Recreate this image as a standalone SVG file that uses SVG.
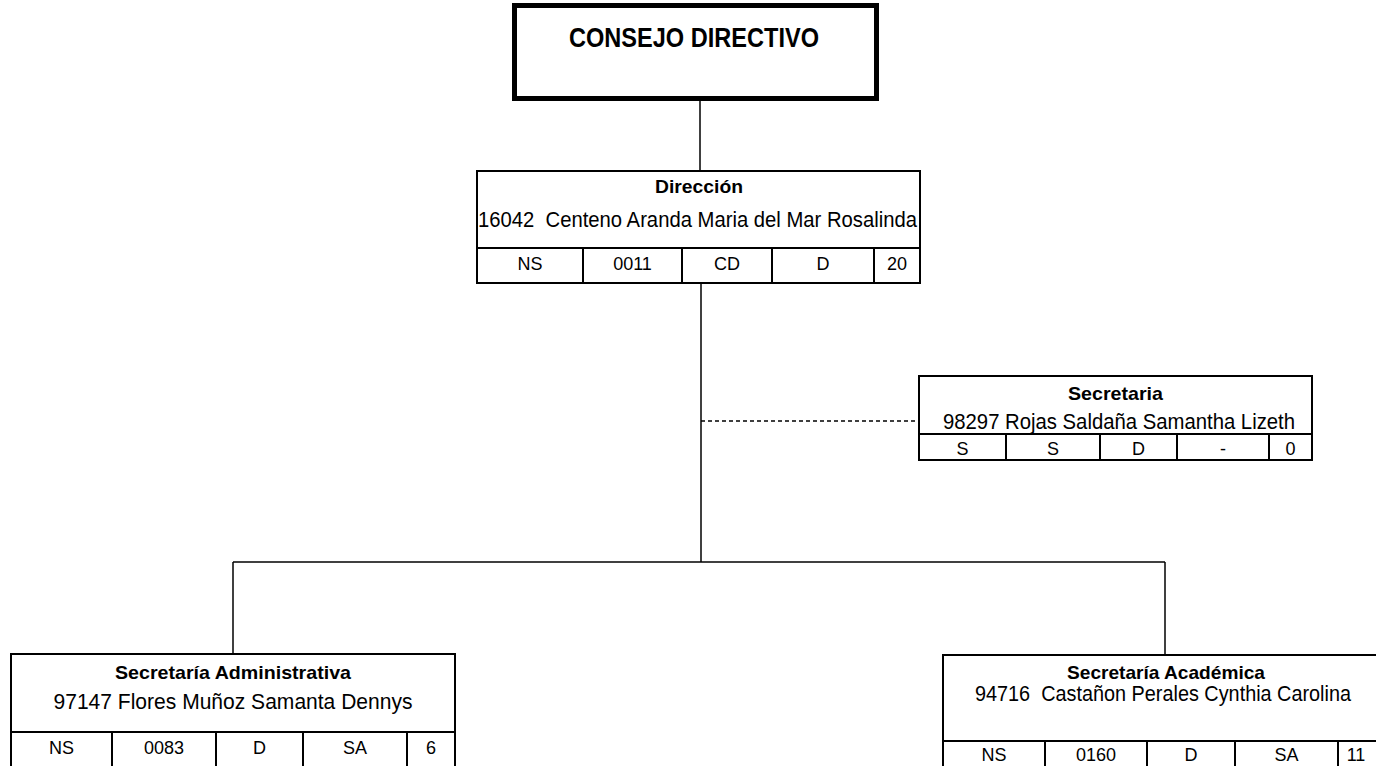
<svg xmlns="http://www.w3.org/2000/svg" width="1376" height="766" viewBox="0 0 1376 766">
<style>
text{font-family:"Liberation Sans",Arial,sans-serif;fill:#000;text-anchor:middle}
.t{font-weight:bold;font-size:19px}
.n{font-size:22px}
.r{font-size:18px}
.box{fill:#fff;stroke:#000;stroke-width:2}
.ln{stroke:#000;stroke-width:2;fill:none}
.con{stroke:#000;stroke-width:1.5;fill:none}
</style>
<rect width="1376" height="766" fill="#fff"/>
<g id="connectors">
<line class="con" x1="700" y1="100" x2="700" y2="171"/>
<line class="con" x1="701" y1="283" x2="701" y2="562"/>
<line class="con" x1="701" y1="421" x2="919" y2="421" stroke-dasharray="4 3"/>
<line class="con" x1="233" y1="562" x2="1165" y2="562"/>
<line class="con" x1="233" y1="562" x2="233" y2="654"/>
<line class="con" x1="1165" y1="562" x2="1165" y2="655"/>
</g>
<g id="consejo">
<rect x="514.5" y="5.5" width="362" height="93" fill="#fff" stroke="#000" stroke-width="5"/>
<text x="694" y="47" style="font-weight:bold;font-size:27px" textLength="250" lengthAdjust="spacingAndGlyphs">CONSEJO DIRECTIVO</text>
</g>
<g id="direccion">
<rect class="box" x="477" y="171" width="443" height="112"/>
<line class="ln" x1="477" y1="248" x2="920" y2="248"/>
<line class="ln" x1="583" y1="248" x2="583" y2="283"/>
<line class="ln" x1="682" y1="248" x2="682" y2="283"/>
<line class="ln" x1="772" y1="248" x2="772" y2="283"/>
<line class="ln" x1="874" y1="248" x2="874" y2="283"/>
<text class="t" x="699" y="193" textLength="88" lengthAdjust="spacingAndGlyphs">Dirección</text>
<text class="n" x="697.5" y="227" textLength="439" lengthAdjust="spacingAndGlyphs" xml:space="preserve">16042  Centeno Aranda Maria del Mar Rosalinda</text>
<text class="r" x="530" y="270">NS</text>
<text class="r" x="632.5" y="270">0011</text>
<text class="r" x="727" y="270">CD</text>
<text class="r" x="823" y="270">D</text>
<text class="r" x="897" y="270">20</text>
</g>
<g id="secretaria">
<rect class="box" x="919" y="376" width="393" height="84"/>
<line class="ln" x1="919" y1="434" x2="1312" y2="434"/>
<line class="ln" x1="1006" y1="434" x2="1006" y2="460"/>
<line class="ln" x1="1100" y1="434" x2="1100" y2="460"/>
<line class="ln" x1="1177" y1="434" x2="1177" y2="460"/>
<line class="ln" x1="1269" y1="434" x2="1269" y2="460"/>
<text class="t" x="1115.5" y="400" textLength="95" lengthAdjust="spacingAndGlyphs">Secretaria</text>
<text class="n" x="1119" y="429" textLength="352" lengthAdjust="spacingAndGlyphs">98297 Rojas Saldaña Samantha Lizeth</text>
<text class="r" x="962.5" y="455">S</text>
<text class="r" x="1053" y="455">S</text>
<text class="r" x="1138.5" y="455">D</text>
<text class="r" x="1223" y="455">-</text>
<text class="r" x="1290.5" y="455">0</text>
</g>
<g id="sec-admin">
<rect class="box" x="11" y="654" width="444" height="130"/>
<line class="ln" x1="11" y1="732" x2="455" y2="732"/>
<line class="ln" x1="112" y1="732" x2="112" y2="784"/>
<line class="ln" x1="216" y1="732" x2="216" y2="784"/>
<line class="ln" x1="303" y1="732" x2="303" y2="784"/>
<line class="ln" x1="407" y1="732" x2="407" y2="784"/>
<text class="t" x="233" y="679" textLength="236" lengthAdjust="spacingAndGlyphs">Secretaría Administrativa</text>
<text class="n" x="233" y="709" textLength="359" lengthAdjust="spacingAndGlyphs">97147 Flores Muñoz Samanta Dennys</text>
<text class="r" x="61.5" y="754">NS</text>
<text class="r" x="164" y="754">0083</text>
<text class="r" x="259.5" y="754">D</text>
<text class="r" x="355" y="754">SA</text>
<text class="r" x="431" y="754">6</text>
</g>
<g id="sec-academica">
<rect class="box" x="943" y="655" width="446" height="130"/>
<line class="ln" x1="943" y1="741" x2="1389" y2="741"/>
<line class="ln" x1="1045" y1="741" x2="1045" y2="785"/>
<line class="ln" x1="1147" y1="741" x2="1147" y2="785"/>
<line class="ln" x1="1235" y1="741" x2="1235" y2="785"/>
<line class="ln" x1="1338" y1="741" x2="1338" y2="785"/>
<text class="t" x="1166" y="679" textLength="198" lengthAdjust="spacingAndGlyphs">Secretaría Académica</text>
<text class="n" x="1163" y="701" textLength="376" lengthAdjust="spacingAndGlyphs" xml:space="preserve">94716  Castañon Perales Cynthia Carolina</text>
<text class="r" x="994" y="761">NS</text>
<text class="r" x="1096" y="761">0160</text>
<text class="r" x="1191" y="761">D</text>
<text class="r" x="1286.5" y="761">SA</text>
<text class="r" x="1356" y="761">11</text>
</g>
</svg>
